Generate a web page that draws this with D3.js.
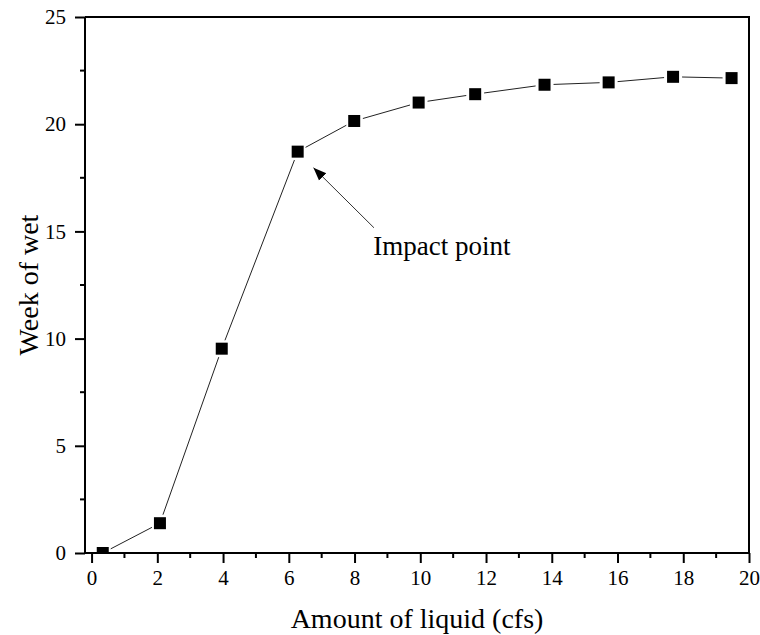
<!DOCTYPE html>
<html>
<head>
<meta charset="utf-8">
<script src="https://cdn.jsdelivr.net/npm/d3@7"></script>
<style>
  body { margin: 0; background: #fff; }
</style>
</head>
<body>
<div id="chart"></div>
<script>
// --- Données ---
const liquid = [0.34, 2.08, 3.96, 6.27, 7.99, 9.95, 11.67, 13.78, 15.73, 17.69, 19.47];
const weeks  = [0, 1.39, 9.53, 18.72, 20.15, 21.01, 21.4, 21.84, 21.95, 22.21, 22.15];
const xTicks = [0, 2, 4, 6, 8, 10, 12, 14, 16, 18, 20];
const yTicks = [0, 5, 10, 15, 20, 25];
// annotation (coordonnées en unités des données)
const noteText = "Impact point";
const noteArrow = { x1: 8.59, y1: 15.17, x2: 6.75, y2: 17.97 };
const notePos = { x: 8.57, y: 13.9 };

const FONT = "'Liberation Serif', 'Times New Roman', serif";
const width = 760, height = 635;
const margin = { top: 17, right: 11, bottom: 82, left: 85 };

const svg = d3.select("#chart").append("svg")
    .attr("width", width)
    .attr("height", height)
    .style("display", "block")
    .style("font-family", FONT);

const x = d3.scaleLinear().domain([-0.2, 20]).range([margin.left, width - margin.right]);
const y = d3.scaleLinear().domain([0, 25]).range([height - margin.bottom, margin.top]);

const defs = svg.append("defs");
defs.append("clipPath").attr("id", "clip")
    .append("rect")
    .attr("x", margin.left).attr("y", margin.top)
    .attr("width", width - margin.left - margin.right)
    .attr("height", height - margin.bottom - margin.top);

defs.append("marker")
    .attr("id", "head")
    .attr("viewBox", "0 0 10 10")
    .attr("refX", 10).attr("refY", 5)
    .attr("markerWidth", 13).attr("markerHeight", 13)
    .attr("markerUnits", "userSpaceOnUse")
    .attr("orient", "auto")
    .append("path")
    .attr("d", "M0,1 L10,5 L0,9 Z")
    .attr("fill", "#000");

// --- Ligne (segments avec un petit espace autour des marqueurs) ---
const pts = liquid.map((v, i) => [x(v), y(weeks[i])]);
const gap = 9;
const segs = d3.pairs(pts).map(([a, b]) => {
    const dx = b[0] - a[0], dy = b[1] - a[1];
    const len = Math.hypot(dx, dy);
    const ux = dx / len, uy = dy / len;
    return [a[0] + ux * gap, a[1] + uy * gap, b[0] - ux * gap, b[1] - uy * gap];
});

const plot = svg.append("g").attr("clip-path", "url(#clip)");

plot.append("g")
    .selectAll("line")
    .data(segs)
    .join("line")
    .attr("x1", d => d[0]).attr("y1", d => d[1])
    .attr("x2", d => d[2]).attr("y2", d => d[3])
    .attr("stroke", "#222")
    .attr("stroke-width", 1);

plot.append("g")
    .selectAll("rect")
    .data(pts)
    .join("rect")
    .attr("x", d => d[0] - 6)
    .attr("y", d => d[1] - 6)
    .attr("width", 12)
    .attr("height", 12)
    .attr("fill", "#000");

// --- Axes ---
const xAxis = svg.append("g")
    .attr("transform", `translate(0,${height - margin.bottom})`)
    .call(d3.axisBottom(x).tickValues(xTicks).tickSize(10).tickPadding(7).tickFormat(d3.format("d")));
xAxis.append("g")
    .selectAll("line")
    .data(d3.range(1, 20, 2))
    .join("line")
    .attr("x1", d => x(d)).attr("x2", d => x(d))
    .attr("y1", 0).attr("y2", 5)
    .attr("stroke", "#000").attr("stroke-width", 2);

const yAxis = svg.append("g")
    .attr("transform", `translate(${margin.left},0)`)
    .call(d3.axisLeft(y).tickValues(yTicks).tickSize(10).tickPadding(9).tickFormat(d3.format("d")));
yAxis.append("g")
    .selectAll("line")
    .data(d3.range(2.5, 25, 5))
    .join("line")
    .attr("y1", d => y(d)).attr("y2", d => y(d))
    .attr("x1", 0).attr("x2", -5)
    .attr("stroke", "#000").attr("stroke-width", 2);

[xAxis, yAxis].forEach(a => {
    a.attr("font-family", "Liberation Serif").attr("font-size", 21);
    a.select(".domain").attr("stroke-width", 2);
    a.selectAll(".tick line").attr("stroke-width", 2);
    a.selectAll(".tick text")
        .attr("font-family", "Liberation Serif")
        .style("font-family", FONT)
        .style("font-size", "21px")
        .attr("fill", "#000");
});
xAxis.select(".domain").attr("d", `M${margin.left},0H${width - margin.right}`);
yAxis.select(".domain").attr("d", `M0,${height - margin.bottom}V${margin.top}`);

// cadre haut / droite
svg.append("path")
    .attr("d", `M${margin.left},${margin.top}H${width - margin.right}V${height - margin.bottom}`)
    .attr("fill", "none")
    .attr("stroke", "#000")
    .attr("stroke-width", 2);

// --- Titres ---
svg.append("text")
    .attr("x", (margin.left + width - margin.right) / 2)
    .attr("y", 628)
    .attr("text-anchor", "middle")
    .style("font-family", FONT)
    .style("font-size", "28px")
    .text("Amount of liquid (cfs)");

svg.append("text")
    .attr("transform", `translate(38,${(margin.top + height - margin.bottom) / 2}) rotate(-90)`)
    .attr("text-anchor", "middle")
    .style("font-family", FONT)
    .style("font-size", "28px")
    .text("Week of wet");

// --- Annotation ---
svg.append("line")
    .attr("x1", x(noteArrow.x1)).attr("y1", y(noteArrow.y1))
    .attr("x2", x(noteArrow.x2)).attr("y2", y(noteArrow.y2))
    .attr("stroke", "#333")
    .attr("stroke-width", 1)
    .attr("marker-end", "url(#head)");

svg.append("text")
    .attr("x", x(notePos.x))
    .attr("y", y(notePos.y))
    .style("font-family", FONT)
    .style("font-size", "27px")
    .text(noteText);
</script>
</body>
</html>
